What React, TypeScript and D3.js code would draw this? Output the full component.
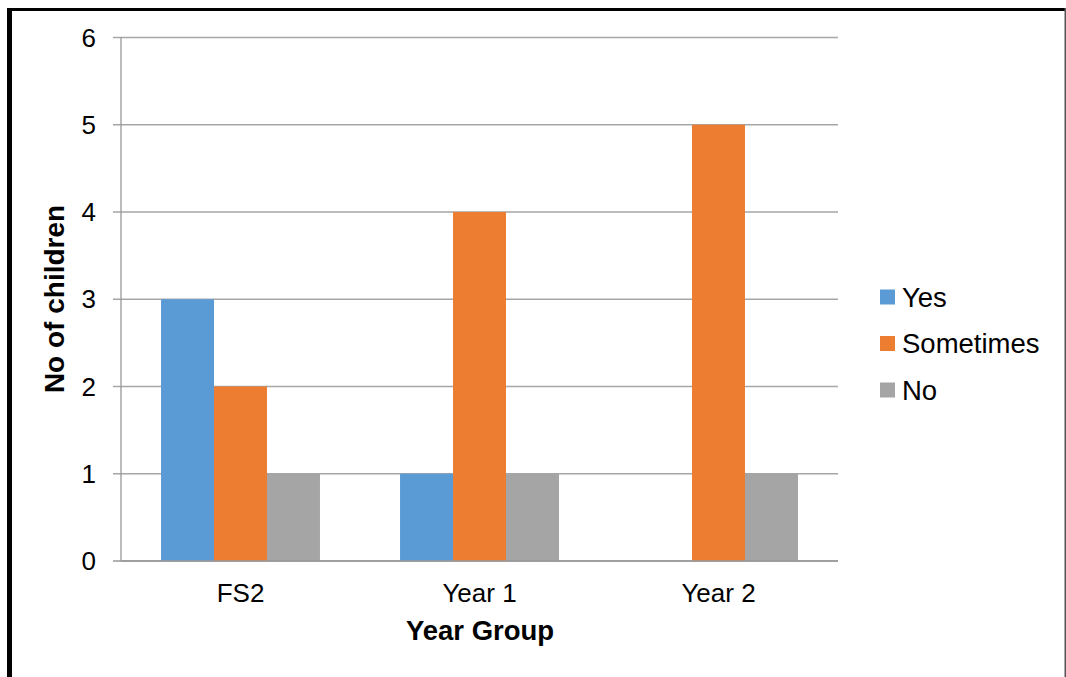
import React from "react";
import * as d3 from "d3";

const categories = ["FS2", "Year 1", "Year 2"];
const seriesNames = ["Yes", "Sometimes", "No"];
const yesValues = [3, 1, 0];
const sometimesValues = [2, 4, 5];
const noValues = [1, 1, 1];
const yTicks = [0, 1, 2, 3, 4, 5, 6];
const colors = ["#5B9BD5", "#ED7D31", "#A5A5A5"];

const W = 1066;
const H = 677;
const margin = { left: 121, right: 838, top: 37.5, bottom: 561 };

export default function App() {
  const series = [yesValues, sometimesValues, noValues];
  const x = d3.scaleBand<string>().domain(categories).range([margin.left, margin.right]).paddingInner(0.335).paddingOuter(0.1675);
  const xs = d3.scaleBand<string>().domain(seriesNames).range([0, x.bandwidth()]);
  const y = d3.scaleLinear().domain([0, 6]).range([margin.bottom, margin.top]);
  const font = "Arial, 'Liberation Sans', sans-serif";

  return (
    <svg width={W} height={H} style={{ position: "absolute", left: 0, top: 0, background: "#fff" }} fontFamily={font}>
      <rect x={0} y={0} width={W} height={H} fill="#fff" />
      {/* border */}
      <rect x={7} y={8} width={W - 7} height={3} fill="#000" />
      <rect x={7} y={8} width={5} height={H - 8} fill="#000" />
      <rect x={1064.5} y={8} width={1.5} height={H - 8} fill="#555" />

      {/* gridlines */}
      {yTicks.map((t) => (
        <line key={t} x1={margin.left - 8} x2={margin.right} y1={y(t)} y2={y(t)} stroke={t === 0 ? "#999" : "#a6a6a6"} strokeWidth={1.3} />
      ))}
      <line x1={margin.left} x2={margin.left} y1={margin.top} y2={margin.bottom} stroke="#999" strokeWidth={1.3} />

      {/* bars */}
      {categories.map((c, i) =>
        series.map((vals, s) =>
          vals[i] > 0 ? (
            <rect
              key={c + s}
              x={(x(c) as number) + (xs(seriesNames[s]) as number)}
              y={y(vals[i])}
              width={xs.bandwidth()}
              height={y(0) - y(vals[i])}
              fill={colors[s]}
            />
          ) : null
        )
      )}
      <line x1={margin.left} x2={margin.right} y1={y(0)} y2={y(0)} stroke="#999" strokeWidth={1.3} />

      {/* y tick labels */}
      {yTicks.map((t) => (
        <text key={t} x={96} y={y(t) + 9} textAnchor="end" fontSize={26} fill="#000">
          {t}
        </text>
      ))}

      {/* x tick labels */}
      {categories.map((c) => (
        <text key={c} x={(x(c) as number) + x.bandwidth() / 2} y={602} textAnchor="middle" fontSize={26} fill="#000">
          {c}
        </text>
      ))}

      {/* axis titles */}
      <text x={480} y={640} textAnchor="middle" fontSize={27.5} fontWeight="bold" fill="#000">
        Year Group
      </text>
      <text transform={`translate(64, 299) rotate(-90)`} textAnchor="middle" fontSize={28} fontWeight="bold" fill="#000">
        No of children
      </text>

      {/* legend */}
      {seriesNames.map((n, i) => (
        <g key={n} transform={`translate(880, ${297 + i * 46.5})`}>
          <rect x={0} y={-7.5} width={15} height={15} fill={colors[i]} />
          <text x={22} y={9.5} fontSize={27.5} fill="#000">
            {n}
          </text>
        </g>
      ))}
    </svg>
  );
}
